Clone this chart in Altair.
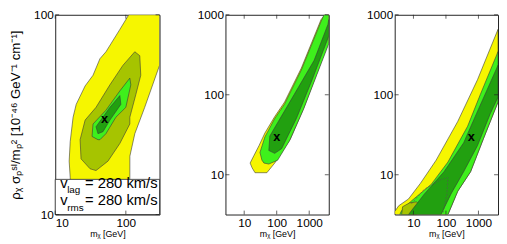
import altair as alt
import pandas as pd

YELLOW = "#f6f600"
OLIVE = "#a6c400"
LGREEN = "#3ef01c"
DGREEN = "#22a010"
EDGE = "#3a3a3a"
FONT = "Liberation Sans"

# ---------------- panel 1 (m = 50 GeV) ----------------
P1_XDOM = [10, 300]
P1_YDOM = [10, 100]
P1_XTICKS = [10, 100]
P1_YTICKS = [10, 100]
P1_YELLOW_M = [110, 300, 300, 185, 134, 114, 114, 107, 16.8, 16.3, 15.75, 16.3, 17.9, 19.8, 26.5, 34.3, 43.0, 52.3, 82.3]
P1_YELLOW_S = [100, 100, 55.8, 34.4, 25.4, 19.6, 15.3, 10, 10, 15.3, 18.5, 23.2, 30.7, 35.6, 44.05, 49.8, 60.3, 65.3, 84.5]
P1_OLIVE_M = [133.9, 157.5, 162.7, 138.3, 113.9, 113.9, 82.3, 55.8, 37.8, 31.1, 23.2, 22.5, 26.5, 37.8, 59.5, 90.7]
P1_OLIVE_S = [65.3, 62.4, 49.8, 39.8, 30.7, 28.4, 22.7, 18.5, 16.6, 16.95, 19.0, 23.7, 29.7, 34.4, 44.6, 55.8]
P1_LGREEN_M = [113.9, 117.6, 100, 72.3, 52.3, 43.0, 40.3, 33.2, 34.3, 52.3, 82.3]
P1_LGREEN_S = [48.2, 44.6, 34.4, 30.7, 25.4, 23.7, 23.7, 24.6, 28.4, 33.3, 41.6]
P1_DGREEN_M = [82.3, 85.0, 59.5, 47.5, 40.3, 37.8, 59.5]
P1_DGREEN_S = [39.4, 35.6, 29.7, 26.0, 25.4, 27.5, 34.4]
P1_BEST = (50, 30)

# ---------------- panel 2 (m = 100 GeV) ----------------
P23_XDOM = [2.65, 4000]
P23_YDOM = [3.18, 1000]
P23_XTICKS = [10, 100, 1000]
P23_YTICKS = [10, 100, 1000]
P2_YELLOW_M = [21.5, 17.5, 15.2, 20.1, 28.5, 43.3, 87, 174.8, 572, 2310, 3054, 4000, 4000, 705, 265.6, 87, 49.8]
P2_YELLOW_S = [10.6, 12.2, 14.0, 17.5, 23.1, 33.2, 53.4, 81.1, 215.4, 870, 1000, 1000, 457.7, 70.5, 28.1, 14.0, 10.6]
P2_LGREEN_M = [35.1, 30.5, 43.3, 87, 174.8, 572, 2310, 2848, 4000, 4000, 658, 247.7, 107, 57.2, 40.4]
P2_LGREEN_S = [15.2, 19.0, 29.7, 50.5, 76.7, 203.8, 823, 1000, 1000, 433, 64.9, 26.6, 15.2, 13.6, 14.0]
P2_DGREEN_M = [57.2, 61.4, 285, 1418, 3765, 4000, 4000, 1233, 403.6, 141.8, 87]
P2_DGREEN_S = [20.1, 30.5, 88.2, 269.3, 756.7, 870, 541, 154.1, 50.5, 21.2, 18.5]
P2_BEST = (100, 30)

# ---------------- panel 3 (m = 600 GeV) ----------------
P3_YELLOW_M = [2.65, 3.51, 7.05, 16.3, 49.8, 231, 933, 4000, 4000, 1418, 572, 231, 115, 2.65]
P3_YELLOW_S = [3.46, 4.09, 4.98, 7.78, 15.2, 46.4, 154.1, 658, 81.1, 28.1, 10.9, 6.22, 3.18, 3.18]
P3_LGREEN_M = [3.77, 4.33, 8.70, 35.1, 115, 464, 1150, 4000, 4000, 1418, 572, 231, 115]
P3_LGREEN_S = [3.18, 3.56, 4.71, 7.57, 14.4, 40.4, 101.4, 346, 81.1, 28.1, 10.9, 6.22, 3.18]
P3_OLIVE_M = [4.33, 4.64, 7.57, 12.3, 16.3, 12.3]
P3_OLIVE_S = [3.18, 3.98, 4.45, 4.58, 4.09, 3.18]
P3_DGREEN_M = [7.05, 8.70, 21.5, 87, 351, 869, 4000, 4000, 2310, 933, 351, 141.8, 70.5]
P3_DGREEN_S = [3.18, 3.56, 5.72, 10.9, 25.1, 58.0, 234.2, 93.3, 58.0, 23.1, 10.9, 5.72, 3.18]
P3_DASH_M = [8.70, 21.5, 70.5, 115, 107, 81.1]
P3_DASH_S = [4.33, 6.58, 8.70, 9.2, 5.72, 3.27]
P3_BEST = (600, 30)

LABEL_LINES = [("lag", "= 280 km/s"), ("rms", "= 280 km/s")]

W1, W2, H = 106, 105, 203

Y_TITLE = "ρᵪ σₚˢᴵ/mₚ² [10⁻⁴⁶ GeV⁻¹ cm⁻¹]"
X_TITLE = "mᵪ [GeV]"


def poly_df(ms, ss, close=True):
    ms, ss = list(ms), list(ss)
    if close:
        ms.append(ms[0]); ss.append(ss[0])
    return pd.DataFrame({"m": ms, "s": ss, "o": range(len(ms))})


def panel(width, xdom, ydom, xticks, yticks, regions, best, ytitle=None, extra=None):
    xaxis = alt.Axis(values=xticks, format="d", title=X_TITLE, ticks=False, domain=False,
                     grid=False, labelFontSize=12, labelFont=FONT, labelColor="black",
                     labelPadding=3, titleFontSize=9, titleFont=FONT, titleFontWeight="normal",
                     titlePadding=1, titleColor="black")
    yaxis = alt.Axis(values=yticks, format="d", title=ytitle if ytitle else None, ticks=False,
                     domain=False, grid=False, labelFontSize=12, labelFont=FONT,
                     labelColor="black", labelPadding=2, titleFontSize=13.5, titleFont=FONT,
                     titleFontWeight="normal", titlePadding=11, titleColor="black")
    xs = alt.Scale(type="log", domain=xdom, nice=False)
    ys = alt.Scale(type="log", domain=ydom, nice=False)
    X = alt.X("m:Q", scale=xs, axis=xaxis)
    Y = alt.Y("s:Q", scale=ys, axis=yaxis)
    layers = []
    for (ms, ss), color in regions:
        layers.append(
            alt.Chart(poly_df(ms, ss)).mark_line(fill=color, stroke=EDGE, strokeWidth=0.6,
                                                 clip=True, interpolate="linear")
            .encode(x=X, y=Y, order="o:Q")
        )
    if extra is not None:
        layers.extend(extra(X, Y))
    layers.append(
        alt.Chart(pd.DataFrame({"m": [best[0]], "s": [best[1]], "t": ["x"]}))
        .mark_text(fontSize=13, fontWeight="bold", font=FONT, color="black", baseline="middle")
        .encode(x=X, y=Y, text="t:N")
    )
    tick_x = pd.DataFrame({"m": xticks})
    tick_y = pd.DataFrame({"s": yticks})
    tk = dict(color="#222", strokeWidth=0.7)
    layers += [
        alt.Chart(tick_x).mark_rule(**tk).encode(x=X, y=alt.value(H), y2=alt.value(H - 4)),
        alt.Chart(tick_x).mark_rule(**tk).encode(x=X, y=alt.value(0), y2=alt.value(4)),
        alt.Chart(tick_y).mark_rule(**tk).encode(y=Y, x=alt.value(0), x2=alt.value(4)),
        alt.Chart(tick_y).mark_rule(**tk).encode(y=Y, x=alt.value(width), x2=alt.value(width - 4)),
    ]
    return alt.layer(*layers).properties(width=width, height=H)


def p1_extra(X, Y):
    box = pd.DataFrame({"m": [10], "m2": [300], "s": [10], "s2": [15]})
    out = [alt.Chart(box).mark_rect(fill="white", stroke="#222", strokeWidth=0.8)
           .encode(x=X, x2="m2:Q", y=Y, y2="s2:Q")]
    rows = []
    line_s = [13.54, 11.2]
    sub_s = [12.8, 10.46]
    for (sub, val), s0, s1 in zip(LABEL_LINES, line_s, sub_s):
        rows.append({"m": 11.76, "s": s0, "t": "v", "fs": 15, "al": "left"})
        rows.append({"m": 14.76, "s": s1, "t": sub, "fs": 10, "al": "left"})
        rows.append({"m": 300, "s": s0, "t": val, "fs": 15, "al": "right"})
    df = pd.DataFrame(rows)
    out.append(alt.Chart(df[df.al == "left"]).mark_text(font=FONT, align="left", baseline="alphabetic", color="black")
               .encode(x=X, y=Y, text="t:N", size=alt.Size("fs:Q", scale=None, legend=None)))
    out.append(alt.Chart(df[df.al == "right"]).mark_text(font=FONT, align="right", baseline="alphabetic", dx=-2, color="black")
               .encode(x=X, y=Y, text="t:N", size=alt.Size("fs:Q", scale=None, legend=None)))
    return out


def p3_extra(X, Y):
    return [alt.Chart(poly_df(P3_DASH_M, P3_DASH_S, close=False))
            .mark_line(stroke="#555", strokeWidth=0.6, strokeDash=[2, 1.5], clip=True)
            .encode(x=X, y=Y, order="o:Q")]


c1 = panel(W1, P1_XDOM, P1_YDOM, P1_XTICKS, P1_YTICKS,
           [((P1_YELLOW_M, P1_YELLOW_S), YELLOW), ((P1_OLIVE_M, P1_OLIVE_S), OLIVE),
            ((P1_LGREEN_M, P1_LGREEN_S), LGREEN), ((P1_DGREEN_M, P1_DGREEN_S), DGREEN)],
           P1_BEST, ytitle=Y_TITLE, extra=p1_extra)
c2 = panel(W2, P23_XDOM, P23_YDOM, P23_XTICKS, P23_YTICKS,
           [((P2_YELLOW_M, P2_YELLOW_S), YELLOW), ((P2_LGREEN_M, P2_LGREEN_S), LGREEN),
            ((P2_DGREEN_M, P2_DGREEN_S), DGREEN)],
           P2_BEST)
c3 = panel(W2, P23_XDOM, P23_YDOM, P23_XTICKS, P23_YTICKS,
           [((P3_YELLOW_M, P3_YELLOW_S), YELLOW), ((P3_LGREEN_M, P3_LGREEN_S), LGREEN),
            ((P3_OLIVE_M, P3_OLIVE_S), OLIVE), ((P3_DGREEN_M, P3_DGREEN_S), DGREEN)],
           P3_BEST, extra=p3_extra)

chart = alt.hconcat(c1, c2, c3, spacing=36).configure_view(
    stroke="#222", strokeWidth=1
).properties(padding={"left": 0, "top": -2, "right": 0, "bottom": 0})

chart.save("out.html", embed_options={"renderer": "svg", "actions": False})
